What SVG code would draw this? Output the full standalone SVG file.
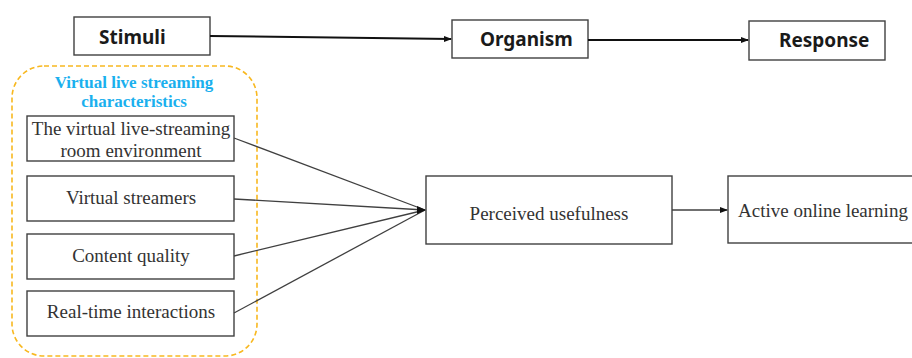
<svg xmlns="http://www.w3.org/2000/svg" width="912" height="358" viewBox="0 0 912 358">
<style>
.box{fill:#fff;stroke:#404040;stroke-width:1.4}
.hd{font-family:"Noto Sans","Open Sans",sans-serif;font-weight:bold;font-size:19px;fill:#1a1a1a}
.tx{font-family:"Liberation Serif","Times New Roman",serif;font-size:19px;fill:#333;text-anchor:middle}
.ttl{font-family:"Liberation Serif","Times New Roman",serif;font-weight:bold;font-size:17px;fill:#1ab0ee;text-anchor:middle}
.ln{stroke:#404040;stroke-width:1.3;fill:none}
.top{stroke:#111;stroke-width:2;fill:none}
</style>
<defs>
<marker id="ah" markerWidth="8" markerHeight="8" refX="7" refY="4" orient="auto" markerUnits="userSpaceOnUse">
<path d="M0,1 L8,4 L0,7 Z" fill="#111"/>
</marker>
</defs>
<rect width="912" height="358" fill="#fff"/>
<g id="group-characteristics">
<rect x="12" y="66" width="245" height="290" rx="32" fill="none" stroke="#f8b820" stroke-width="1.6" stroke-dasharray="5,3"/>
<text class="ttl" x="134" y="88">Virtual live streaming</text>
<text class="ttl" x="134" y="107">characteristics</text>
</g>
<g id="stimuli"><rect class="box" x="74" y="17" width="136" height="38"/><text class="hd" x="99" y="44">Stimuli</text></g>
<g id="organism"><rect class="box" x="452" y="20" width="136" height="38"/><text class="hd" x="480" y="46">Organism</text></g>
<g id="response"><rect class="box" x="749" y="21" width="136" height="39"/><text class="hd" x="779" y="47">Response</text></g>
<g id="environment"><rect class="box" x="27" y="116" width="207" height="45"/><text class="tx" x="131" y="135">The virtual live-streaming</text><text class="tx" x="131" y="157">room environment</text></g>
<g id="streamers"><rect class="box" x="27" y="176" width="207" height="45"/><text class="tx" x="131" y="204">Virtual streamers</text></g>
<g id="content"><rect class="box" x="27" y="234" width="207" height="45"/><text class="tx" x="131" y="262">Content quality</text></g>
<g id="interactions"><rect class="box" x="27" y="291" width="207" height="45"/><text class="tx" x="131" y="318">Real-time interactions</text></g>
<g id="usefulness"><rect class="box" x="426" y="176" width="246" height="68"/><text class="tx" x="549" y="220">Perceived usefulness</text></g>
<g id="learning"><rect class="box" x="728" y="176" width="190" height="67"/><text class="tx" x="738" y="217" style="text-anchor:start">Active online learning</text></g>
<g id="connectors">
<path class="top" d="M210,36 L451,39" marker-end="url(#ah)"/>
<path class="top" d="M588,40 L748,40" marker-end="url(#ah)"/>
<path class="ln" d="M234,138 L425,210"/>
<path class="ln" d="M234,199 L425,210"/>
<path class="ln" d="M234,256 L425,210"/>
<path class="ln" d="M234,313 L425,210"/>
<path d="M417,206 L426,210 L417,214 Z" fill="#111"/>
<path class="ln" d="M672,210 L727,210" marker-end="url(#ah)"/>
</g>
</svg>
